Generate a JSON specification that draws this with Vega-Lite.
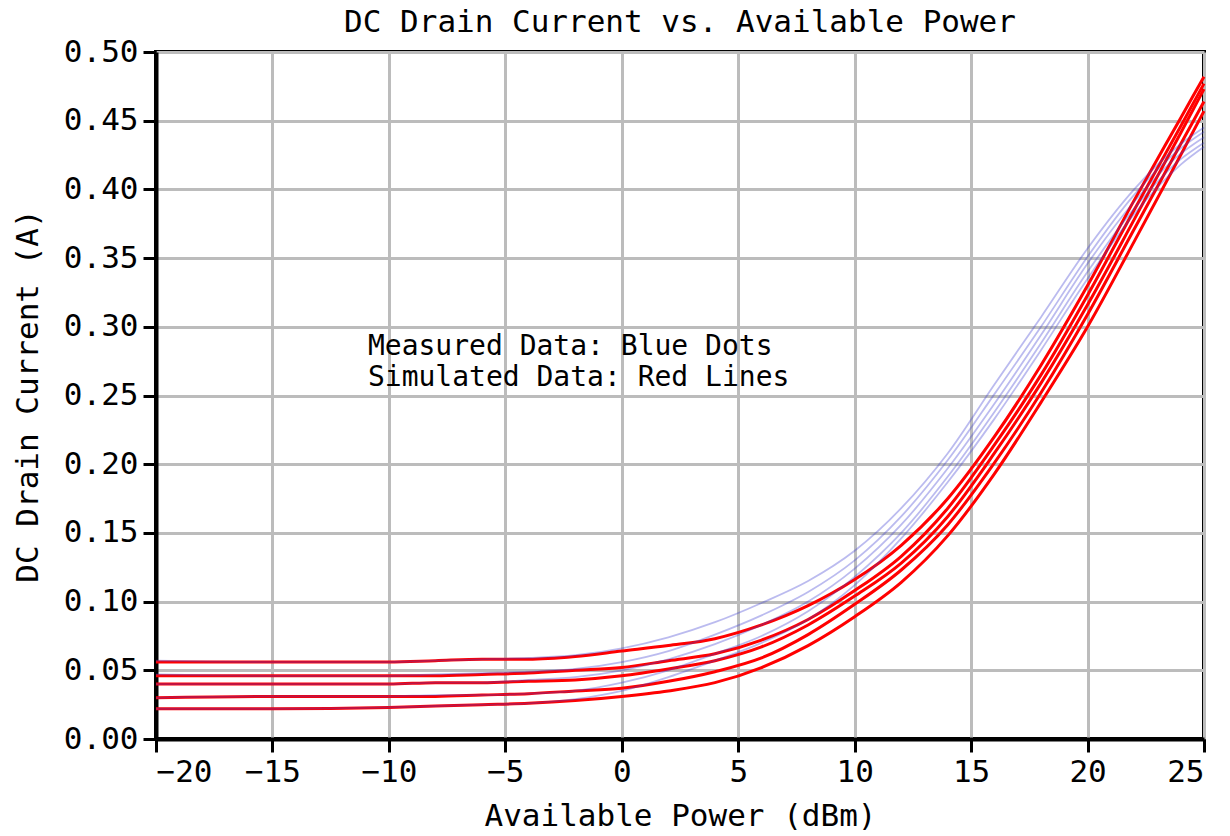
{
  "$schema": "https://vega.github.io/schema/vega-lite/v6.json",
  "width": 1048,
  "height": 687,
  "autosize": {"type": "none"},
  "padding": {"left": 156, "top": 52, "right": 26, "bottom": 97},
  "background": "white",
  "title": {"text": "DC Drain Current vs. Available Power", "font": "DejaVu Sans Mono", "fontSize": 31, "fontWeight": "normal", "color": "black", "offset": -3},
  "config": {
    "view": {"stroke": "black", "strokeWidth": 4},
    "axis": {
      "grid": true, "gridColor": "#bcbcbc", "gridWidth": 3, "gridOpacity": 1,
      "domainColor": "black", "domainWidth": 4,
      "tickColor": "black", "tickWidth": 3, "tickSize": 13,
      "labelFont": "DejaVu Sans Mono", "labelFontSize": 31, "labelColor": "black", "labelPadding": 5,
      "titleFont": "DejaVu Sans Mono", "titleFontSize": 31, "titleFontWeight": "normal", "titleColor": "black"
    }
  },
  "datasets": {
    "curves": [
      {"pwr": -20, "cur": 0.056, "src": "sim", "trace": 1}, {"pwr": -15, "cur": 0.056, "src": "sim", "trace": 1}, {"pwr": -10, "cur": 0.056, "src": "sim", "trace": 1}, {"pwr": -8, "cur": 0.057, "src": "sim", "trace": 1}, {"pwr": -6, "cur": 0.058, "src": "sim", "trace": 1}, {"pwr": -4, "cur": 0.058, "src": "sim", "trace": 1}, {"pwr": -2, "cur": 0.060, "src": "sim", "trace": 1}, {"pwr": 0, "cur": 0.064, "src": "sim", "trace": 1}, {"pwr": 2, "cur": 0.068, "src": "sim", "trace": 1}, {"pwr": 4, "cur": 0.073, "src": "sim", "trace": 1}, {"pwr": 6, "cur": 0.083, "src": "sim", "trace": 1}, {"pwr": 8, "cur": 0.097, "src": "sim", "trace": 1}, {"pwr": 10, "cur": 0.116, "src": "sim", "trace": 1}, {"pwr": 12, "cur": 0.141, "src": "sim", "trace": 1}, {"pwr": 14, "cur": 0.175, "src": "sim", "trace": 1}, {"pwr": 16, "cur": 0.220, "src": "sim", "trace": 1}, {"pwr": 18, "cur": 0.272, "src": "sim", "trace": 1}, {"pwr": 20, "cur": 0.330, "src": "sim", "trace": 1}, {"pwr": 22, "cur": 0.392, "src": "sim", "trace": 1}, {"pwr": 24, "cur": 0.452, "src": "sim", "trace": 1}, {"pwr": 25, "cur": 0.482, "src": "sim", "trace": 1},
      {"pwr": -20, "cur": 0.046, "src": "sim", "trace": 2}, {"pwr": -15, "cur": 0.046, "src": "sim", "trace": 2}, {"pwr": -10, "cur": 0.046, "src": "sim", "trace": 2}, {"pwr": -8, "cur": 0.046, "src": "sim", "trace": 2}, {"pwr": -6, "cur": 0.047, "src": "sim", "trace": 2}, {"pwr": -4, "cur": 0.048, "src": "sim", "trace": 2}, {"pwr": -2, "cur": 0.050, "src": "sim", "trace": 2}, {"pwr": 0, "cur": 0.052, "src": "sim", "trace": 2}, {"pwr": 2, "cur": 0.057, "src": "sim", "trace": 2}, {"pwr": 4, "cur": 0.062, "src": "sim", "trace": 2}, {"pwr": 6, "cur": 0.072, "src": "sim", "trace": 2}, {"pwr": 8, "cur": 0.087, "src": "sim", "trace": 2}, {"pwr": 10, "cur": 0.108, "src": "sim", "trace": 2}, {"pwr": 12, "cur": 0.133, "src": "sim", "trace": 2}, {"pwr": 14, "cur": 0.168, "src": "sim", "trace": 2}, {"pwr": 16, "cur": 0.214, "src": "sim", "trace": 2}, {"pwr": 18, "cur": 0.265, "src": "sim", "trace": 2}, {"pwr": 20, "cur": 0.323, "src": "sim", "trace": 2}, {"pwr": 22, "cur": 0.385, "src": "sim", "trace": 2}, {"pwr": 24, "cur": 0.446, "src": "sim", "trace": 2}, {"pwr": 25, "cur": 0.477, "src": "sim", "trace": 2},
      {"pwr": -20, "cur": 0.040, "src": "sim", "trace": 3}, {"pwr": -15, "cur": 0.040, "src": "sim", "trace": 3}, {"pwr": -10, "cur": 0.040, "src": "sim", "trace": 3}, {"pwr": -8, "cur": 0.041, "src": "sim", "trace": 3}, {"pwr": -6, "cur": 0.041, "src": "sim", "trace": 3}, {"pwr": -4, "cur": 0.042, "src": "sim", "trace": 3}, {"pwr": -2, "cur": 0.043, "src": "sim", "trace": 3}, {"pwr": 0, "cur": 0.046, "src": "sim", "trace": 3}, {"pwr": 2, "cur": 0.051, "src": "sim", "trace": 3}, {"pwr": 4, "cur": 0.057, "src": "sim", "trace": 3}, {"pwr": 6, "cur": 0.067, "src": "sim", "trace": 3}, {"pwr": 8, "cur": 0.083, "src": "sim", "trace": 3}, {"pwr": 10, "cur": 0.104, "src": "sim", "trace": 3}, {"pwr": 12, "cur": 0.128, "src": "sim", "trace": 3}, {"pwr": 14, "cur": 0.162, "src": "sim", "trace": 3}, {"pwr": 16, "cur": 0.208, "src": "sim", "trace": 3}, {"pwr": 18, "cur": 0.259, "src": "sim", "trace": 3}, {"pwr": 20, "cur": 0.316, "src": "sim", "trace": 3}, {"pwr": 22, "cur": 0.378, "src": "sim", "trace": 3}, {"pwr": 24, "cur": 0.441, "src": "sim", "trace": 3}, {"pwr": 25, "cur": 0.473, "src": "sim", "trace": 3},
      {"pwr": -20, "cur": 0.030, "src": "sim", "trace": 4}, {"pwr": -15, "cur": 0.031, "src": "sim", "trace": 4}, {"pwr": -10, "cur": 0.031, "src": "sim", "trace": 4}, {"pwr": -8, "cur": 0.031, "src": "sim", "trace": 4}, {"pwr": -6, "cur": 0.032, "src": "sim", "trace": 4}, {"pwr": -4, "cur": 0.033, "src": "sim", "trace": 4}, {"pwr": -2, "cur": 0.035, "src": "sim", "trace": 4}, {"pwr": 0, "cur": 0.037, "src": "sim", "trace": 4}, {"pwr": 2, "cur": 0.042, "src": "sim", "trace": 4}, {"pwr": 4, "cur": 0.049, "src": "sim", "trace": 4}, {"pwr": 6, "cur": 0.059, "src": "sim", "trace": 4}, {"pwr": 8, "cur": 0.076, "src": "sim", "trace": 4}, {"pwr": 10, "cur": 0.098, "src": "sim", "trace": 4}, {"pwr": 12, "cur": 0.123, "src": "sim", "trace": 4}, {"pwr": 14, "cur": 0.156, "src": "sim", "trace": 4}, {"pwr": 16, "cur": 0.201, "src": "sim", "trace": 4}, {"pwr": 18, "cur": 0.252, "src": "sim", "trace": 4}, {"pwr": 20, "cur": 0.309, "src": "sim", "trace": 4}, {"pwr": 22, "cur": 0.371, "src": "sim", "trace": 4}, {"pwr": 24, "cur": 0.433, "src": "sim", "trace": 4}, {"pwr": 25, "cur": 0.464, "src": "sim", "trace": 4},
      {"pwr": -20, "cur": 0.022, "src": "sim", "trace": 5}, {"pwr": -15, "cur": 0.022, "src": "sim", "trace": 5}, {"pwr": -10, "cur": 0.023, "src": "sim", "trace": 5}, {"pwr": -8, "cur": 0.024, "src": "sim", "trace": 5}, {"pwr": -6, "cur": 0.025, "src": "sim", "trace": 5}, {"pwr": -4, "cur": 0.026, "src": "sim", "trace": 5}, {"pwr": -2, "cur": 0.028, "src": "sim", "trace": 5}, {"pwr": 0, "cur": 0.031, "src": "sim", "trace": 5}, {"pwr": 2, "cur": 0.035, "src": "sim", "trace": 5}, {"pwr": 4, "cur": 0.041, "src": "sim", "trace": 5}, {"pwr": 6, "cur": 0.052, "src": "sim", "trace": 5}, {"pwr": 8, "cur": 0.068, "src": "sim", "trace": 5}, {"pwr": 10, "cur": 0.089, "src": "sim", "trace": 5}, {"pwr": 12, "cur": 0.114, "src": "sim", "trace": 5}, {"pwr": 14, "cur": 0.148, "src": "sim", "trace": 5}, {"pwr": 16, "cur": 0.193, "src": "sim", "trace": 5}, {"pwr": 18, "cur": 0.245, "src": "sim", "trace": 5}, {"pwr": 20, "cur": 0.300, "src": "sim", "trace": 5}, {"pwr": 22, "cur": 0.362, "src": "sim", "trace": 5}, {"pwr": 24, "cur": 0.425, "src": "sim", "trace": 5}, {"pwr": 25, "cur": 0.457, "src": "sim", "trace": 5},
      {"pwr": -20, "cur": 0.057, "src": "meas", "trace": 1}, {"pwr": -15, "cur": 0.056, "src": "meas", "trace": 1}, {"pwr": -10, "cur": 0.056, "src": "meas", "trace": 1}, {"pwr": -8, "cur": 0.057, "src": "meas", "trace": 1}, {"pwr": -6, "cur": 0.058, "src": "meas", "trace": 1}, {"pwr": -4, "cur": 0.059, "src": "meas", "trace": 1}, {"pwr": -2, "cur": 0.061, "src": "meas", "trace": 1}, {"pwr": 0, "cur": 0.066, "src": "meas", "trace": 1}, {"pwr": 2, "cur": 0.074, "src": "meas", "trace": 1}, {"pwr": 4, "cur": 0.085, "src": "meas", "trace": 1}, {"pwr": 6, "cur": 0.099, "src": "meas", "trace": 1}, {"pwr": 8, "cur": 0.115, "src": "meas", "trace": 1}, {"pwr": 10, "cur": 0.137, "src": "meas", "trace": 1}, {"pwr": 12, "cur": 0.168, "src": "meas", "trace": 1}, {"pwr": 14, "cur": 0.208, "src": "meas", "trace": 1}, {"pwr": 16, "cur": 0.258, "src": "meas", "trace": 1}, {"pwr": 18, "cur": 0.307, "src": "meas", "trace": 1}, {"pwr": 20, "cur": 0.357, "src": "meas", "trace": 1}, {"pwr": 22, "cur": 0.400, "src": "meas", "trace": 1}, {"pwr": 24, "cur": 0.433, "src": "meas", "trace": 1}, {"pwr": 25, "cur": 0.445, "src": "meas", "trace": 1},
      {"pwr": -20, "cur": 0.047, "src": "meas", "trace": 2}, {"pwr": -15, "cur": 0.046, "src": "meas", "trace": 2}, {"pwr": -10, "cur": 0.046, "src": "meas", "trace": 2}, {"pwr": -8, "cur": 0.047, "src": "meas", "trace": 2}, {"pwr": -6, "cur": 0.048, "src": "meas", "trace": 2}, {"pwr": -4, "cur": 0.049, "src": "meas", "trace": 2}, {"pwr": -2, "cur": 0.051, "src": "meas", "trace": 2}, {"pwr": 0, "cur": 0.056, "src": "meas", "trace": 2}, {"pwr": 2, "cur": 0.064, "src": "meas", "trace": 2}, {"pwr": 4, "cur": 0.076, "src": "meas", "trace": 2}, {"pwr": 6, "cur": 0.090, "src": "meas", "trace": 2}, {"pwr": 8, "cur": 0.107, "src": "meas", "trace": 2}, {"pwr": 10, "cur": 0.130, "src": "meas", "trace": 2}, {"pwr": 12, "cur": 0.162, "src": "meas", "trace": 2}, {"pwr": 14, "cur": 0.203, "src": "meas", "trace": 2}, {"pwr": 16, "cur": 0.251, "src": "meas", "trace": 2}, {"pwr": 18, "cur": 0.300, "src": "meas", "trace": 2}, {"pwr": 20, "cur": 0.351, "src": "meas", "trace": 2}, {"pwr": 22, "cur": 0.396, "src": "meas", "trace": 2}, {"pwr": 24, "cur": 0.430, "src": "meas", "trace": 2}, {"pwr": 25, "cur": 0.442, "src": "meas", "trace": 2},
      {"pwr": -20, "cur": 0.040, "src": "meas", "trace": 3}, {"pwr": -15, "cur": 0.040, "src": "meas", "trace": 3}, {"pwr": -10, "cur": 0.040, "src": "meas", "trace": 3}, {"pwr": -8, "cur": 0.041, "src": "meas", "trace": 3}, {"pwr": -6, "cur": 0.041, "src": "meas", "trace": 3}, {"pwr": -4, "cur": 0.043, "src": "meas", "trace": 3}, {"pwr": -2, "cur": 0.045, "src": "meas", "trace": 3}, {"pwr": 0, "cur": 0.050, "src": "meas", "trace": 3}, {"pwr": 2, "cur": 0.058, "src": "meas", "trace": 3}, {"pwr": 4, "cur": 0.069, "src": "meas", "trace": 3}, {"pwr": 6, "cur": 0.083, "src": "meas", "trace": 3}, {"pwr": 8, "cur": 0.100, "src": "meas", "trace": 3}, {"pwr": 10, "cur": 0.124, "src": "meas", "trace": 3}, {"pwr": 12, "cur": 0.156, "src": "meas", "trace": 3}, {"pwr": 14, "cur": 0.197, "src": "meas", "trace": 3}, {"pwr": 16, "cur": 0.244, "src": "meas", "trace": 3}, {"pwr": 18, "cur": 0.294, "src": "meas", "trace": 3}, {"pwr": 20, "cur": 0.346, "src": "meas", "trace": 3}, {"pwr": 22, "cur": 0.391, "src": "meas", "trace": 3}, {"pwr": 24, "cur": 0.426, "src": "meas", "trace": 3}, {"pwr": 25, "cur": 0.438, "src": "meas", "trace": 3},
      {"pwr": -20, "cur": 0.030, "src": "meas", "trace": 4}, {"pwr": -15, "cur": 0.031, "src": "meas", "trace": 4}, {"pwr": -10, "cur": 0.031, "src": "meas", "trace": 4}, {"pwr": -8, "cur": 0.032, "src": "meas", "trace": 4}, {"pwr": -6, "cur": 0.032, "src": "meas", "trace": 4}, {"pwr": -4, "cur": 0.033, "src": "meas", "trace": 4}, {"pwr": -2, "cur": 0.035, "src": "meas", "trace": 4}, {"pwr": 0, "cur": 0.041, "src": "meas", "trace": 4}, {"pwr": 2, "cur": 0.050, "src": "meas", "trace": 4}, {"pwr": 4, "cur": 0.062, "src": "meas", "trace": 4}, {"pwr": 6, "cur": 0.075, "src": "meas", "trace": 4}, {"pwr": 8, "cur": 0.093, "src": "meas", "trace": 4}, {"pwr": 10, "cur": 0.118, "src": "meas", "trace": 4}, {"pwr": 12, "cur": 0.150, "src": "meas", "trace": 4}, {"pwr": 14, "cur": 0.191, "src": "meas", "trace": 4}, {"pwr": 16, "cur": 0.238, "src": "meas", "trace": 4}, {"pwr": 18, "cur": 0.288, "src": "meas", "trace": 4}, {"pwr": 20, "cur": 0.340, "src": "meas", "trace": 4}, {"pwr": 22, "cur": 0.386, "src": "meas", "trace": 4}, {"pwr": 24, "cur": 0.422, "src": "meas", "trace": 4}, {"pwr": 25, "cur": 0.434, "src": "meas", "trace": 4},
      {"pwr": -20, "cur": 0.022, "src": "meas", "trace": 5}, {"pwr": -15, "cur": 0.022, "src": "meas", "trace": 5}, {"pwr": -10, "cur": 0.023, "src": "meas", "trace": 5}, {"pwr": -8, "cur": 0.024, "src": "meas", "trace": 5}, {"pwr": -6, "cur": 0.025, "src": "meas", "trace": 5}, {"pwr": -4, "cur": 0.026, "src": "meas", "trace": 5}, {"pwr": -2, "cur": 0.029, "src": "meas", "trace": 5}, {"pwr": 0, "cur": 0.035, "src": "meas", "trace": 5}, {"pwr": 2, "cur": 0.045, "src": "meas", "trace": 5}, {"pwr": 4, "cur": 0.057, "src": "meas", "trace": 5}, {"pwr": 6, "cur": 0.070, "src": "meas", "trace": 5}, {"pwr": 8, "cur": 0.087, "src": "meas", "trace": 5}, {"pwr": 10, "cur": 0.112, "src": "meas", "trace": 5}, {"pwr": 12, "cur": 0.146, "src": "meas", "trace": 5}, {"pwr": 14, "cur": 0.187, "src": "meas", "trace": 5}, {"pwr": 16, "cur": 0.233, "src": "meas", "trace": 5}, {"pwr": 18, "cur": 0.283, "src": "meas", "trace": 5}, {"pwr": 20, "cur": 0.335, "src": "meas", "trace": 5}, {"pwr": 22, "cur": 0.382, "src": "meas", "trace": 5}, {"pwr": 24, "cur": 0.418, "src": "meas", "trace": 5}, {"pwr": 25, "cur": 0.431, "src": "meas", "trace": 5}
    ],
    "notes": [
      {"pwr": -10.9, "cur": 0.2853, "label": "Measured Data: Blue Dots\nSimulated Data: Red Lines"}
    ]
  },
  "encoding": {
    "x": {"field": "pwr", "type": "quantitative", "scale": {"domain": [-20, 25], "nice": false, "zero": false},
      "axis": {"values": [-20, -15, -10, -5, 0, 5, 10, 15, 20, 25], "title": "Available Power (dBm)", "titlePadding": 14}},
    "y": {"field": "cur", "type": "quantitative", "scale": {"domain": [0, 0.5], "nice": false},
      "axis": {"values": [0, 0.05, 0.1, 0.15, 0.2, 0.25, 0.3, 0.35, 0.4, 0.45, 0.5], "format": ".2f", "title": "DC Drain Current (A)", "titlePadding": 19}}
  },
  "layer": [
    {
      "data": {"name": "curves"},
      "transform": [{"filter": "datum.src === 'sim'"}],
      "mark": {"type": "line", "color": "#ff0000", "strokeWidth": 3, "interpolate": "monotone"},
      "encoding": {"detail": {"field": "trace", "type": "nominal"}}
    },
    {
      "data": {"name": "curves"},
      "transform": [{"filter": "datum.src === 'meas'"}],
      "mark": {"type": "line", "color": "#3c3cd2", "strokeWidth": 1.8, "opacity": 0.35, "interpolate": "monotone"},
      "encoding": {"detail": {"field": "trace", "type": "nominal"}}
    },
    {
      "data": {"name": "notes"},
      "mark": {"type": "text", "align": "left", "baseline": "middle", "lineBreak": "\n", "lineHeight": 31, "font": "DejaVu Sans Mono", "fontSize": 28, "color": "black"},
      "encoding": {"text": {"field": "label", "type": "nominal"}}
    }
  ]
}
